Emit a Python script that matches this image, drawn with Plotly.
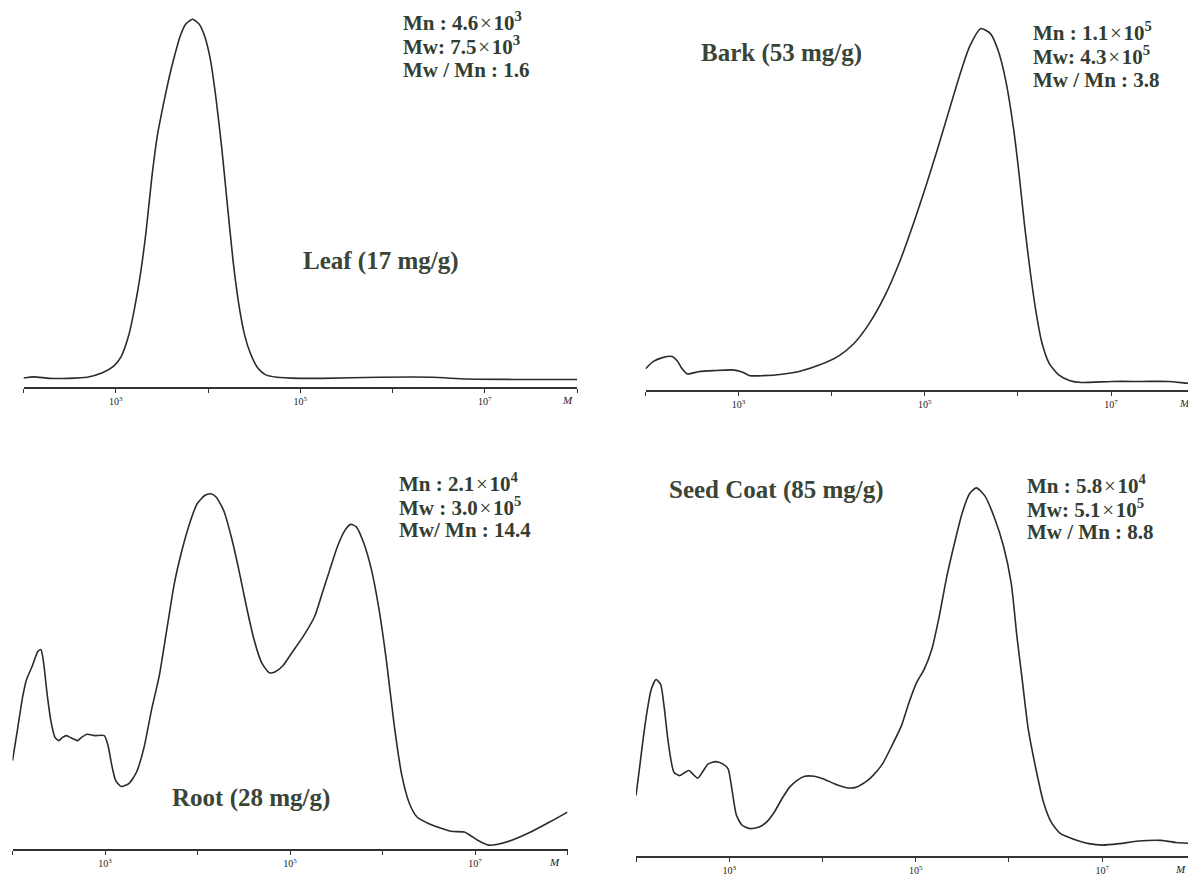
import plotly.graph_objects as go

# ---------------- data (log10 M, relative intensity % of main peak) ----------------
leaf_logM = [2.000, 2.115, 2.279, 2.485, 2.690, 2.855, 2.978, 3.060, 3.143, 3.204, 3.266, 3.328,
             3.389, 3.451, 3.513, 3.574, 3.636, 3.697, 3.759, 3.833, 3.903, 3.965, 4.026, 4.088,
             4.150, 4.211, 4.273, 4.335, 4.396, 4.458, 4.540, 4.622, 4.746, 4.992, 5.239, 5.855,
             6.431, 6.801, 7.294, 8.000]
leaf_int = [2.4, 2.7, 2.3, 2.3, 2.6, 3.8, 5.6, 8.3, 14.2, 21.4, 30.4, 42.1,
            56.5, 68.3, 76.4, 83.6, 89.9, 95.3, 98.7, 100.0, 98.7, 95.3, 89.0, 78.2,
            64.7, 49.3, 34.0, 22.3, 14.2, 9.2, 5.1, 3.3, 2.6, 2.3, 2.3, 2.6,
            2.6, 2.1, 2.0, 2.0]

bark_logM = [2.000, 2.081, 2.183, 2.285, 2.346, 2.387, 2.448, 2.570, 2.733, 2.936, 3.038, 3.120,
             3.262, 3.466, 3.669, 3.873, 4.077, 4.239, 4.402, 4.565, 4.728, 4.891, 5.013, 5.135,
             5.257, 5.380, 5.481, 5.603, 5.705, 5.787, 5.868, 5.950, 6.011, 6.072, 6.133, 6.194,
             6.255, 6.336, 6.438, 6.560, 6.682, 7.008, 7.334, 7.619, 7.823, 7.896]
bark_int = [5.8, 7.8, 8.9, 9.2, 7.8, 6.0, 4.4, 5.0, 5.3, 5.5, 4.9, 3.9,
            3.9, 4.3, 5.2, 6.9, 9.4, 12.8, 18.3, 25.7, 35.3, 47.0, 56.5, 66.5,
            77.0, 87.5, 95.0, 100.0, 98.6, 94.0, 85.8, 72.9, 60.1, 45.4, 32.6, 21.6,
            13.3, 7.3, 4.1, 2.5, 2.0, 2.3, 2.3, 2.3, 1.8, 1.7]

root_logM = [2.000, 2.049, 2.111, 2.152, 2.213, 2.275, 2.307, 2.336, 2.377, 2.418, 2.459, 2.500,
             2.541, 2.582, 2.623, 2.664, 2.705, 2.746, 2.807, 2.889, 2.992, 3.033, 3.074, 3.115,
             3.176, 3.258, 3.340, 3.422, 3.504, 3.586, 3.668, 3.750, 3.832, 3.914, 3.996, 4.078,
             4.139, 4.201, 4.283, 4.365, 4.447, 4.529, 4.611, 4.693, 4.775, 4.836, 4.918, 5.020,
             5.143, 5.266, 5.348, 5.430, 5.512, 5.594, 5.656, 5.717, 5.799, 5.881, 5.963, 6.045,
             6.127, 6.209, 6.291, 6.373, 6.496, 6.619, 6.742, 6.885, 6.947, 7.029, 7.152, 7.234,
             7.398, 7.602, 7.807, 8.000]
root_int = [25.0, 32.9, 43.1, 47.8, 51.5, 55.7, 56.2, 52.5, 43.1, 35.7, 31.5, 30.6,
            31.5, 32.0, 31.5, 31.0, 30.6, 31.5, 32.4, 32.0, 32.0, 29.2, 23.6, 19.4,
            17.7, 18.5, 21.7, 28.7, 39.4, 48.7, 61.8, 74.8, 84.1, 91.6, 97.2, 99.5,
            100.0, 99.1, 95.3, 87.9, 78.6, 68.3, 59.0, 52.5, 49.7, 49.9, 51.5, 55.3,
            59.9, 65.5, 72.0, 78.6, 85.1, 89.7, 91.4, 90.7, 86.0, 78.6, 67.4, 52.5,
            34.8, 20.8, 12.9, 9.1, 7.3, 6.1, 5.1, 4.9, 4.0, 2.6, 1.2, 1.4,
            2.6, 4.9, 7.7, 10.5]

seed_logM = [2.000, 2.041, 2.081, 2.122, 2.163, 2.215, 2.264, 2.305, 2.346, 2.407, 2.467, 2.528,
             2.569, 2.610, 2.663, 2.711, 2.772, 2.854, 2.935, 2.988, 3.028, 3.077, 3.138, 3.220,
             3.321, 3.402, 3.484, 3.565, 3.646, 3.728, 3.809, 3.911, 4.012, 4.134, 4.256, 4.358,
             4.459, 4.541, 4.642, 4.744, 4.846, 4.927, 5.008, 5.089, 5.171, 5.252, 5.333, 5.415,
             5.496, 5.577, 5.650, 5.740, 5.841, 5.943, 6.024, 6.085, 6.146, 6.207, 6.289, 6.370,
             6.451, 6.553, 6.695, 6.858, 7.000, 7.183, 7.386, 7.630, 7.793, 7.988]
seed_int = [16.4, 24.5, 32.6, 39.8, 45.2, 47.9, 46.6, 39.8, 30.8, 22.7, 21.8, 22.7,
            23.2, 22.2, 21.1, 22.7, 24.9, 25.6, 24.9, 23.6, 18.2, 11.0, 8.3, 7.4,
            7.8, 9.2, 11.9, 15.5, 18.6, 20.5, 21.6, 21.6, 20.9, 19.5, 18.5, 18.6,
            20.0, 21.8, 24.9, 29.9, 35.3, 41.6, 47.0, 50.6, 56.0, 65.1, 75.9, 84.9,
            93.0, 98.4, 100.0, 97.9, 92.1, 84.0, 74.1, 59.7, 47.0, 34.4, 23.6, 14.6,
            9.2, 6.0, 4.5, 3.3, 2.9, 3.3, 4.0, 4.2, 3.6, 3.3]

sample_names = ["Leaf (17 mg/g)", "Bark (53 mg/g)", "Root (28 mg/g)", "Seed Coat (85 mg/g)"]
X = "<span style='font-weight:normal'>\u200a×\u200a</span>"
stats_lines = [
    ["Mn : 4.6" + X + "10<sup>3</sup>", "Mw: 7.5" + X + "10<sup>3</sup>", "Mw / Mn : 1.6"],
    ["Mn : 1.1" + X + "10<sup>5</sup>", "Mw: 4.3" + X + "10<sup>5</sup>", "Mw / Mn : 3.8"],
    ["Mn : 2.1" + X + "10<sup>4</sup>", "Mw : 3.0" + X + "10<sup>5</sup>", "Mw/ Mn : 14.4"],
    ["Mn : 5.8" + X + "10<sup>4</sup>", "Mw: 5.1" + X + "10<sup>5</sup>", "Mw / Mn : 8.8"],
]
major_decades = [3, 5, 7]
major_text = ["10<sup>3</sup>", "10<sup>5</sup>", "10<sup>7</sup>"]
minor_decades = [2, 4, 6, 8]

# ---------------- layout geometry ----------------
W, H = 1188, 876
series = [(leaf_logM, leaf_int), (bark_logM, bark_int), (root_logM, root_int), (seed_logM, seed_int)]
panels = [
    dict(x0=23.5, x1=577.0, r=(2, 8.0), yax=389.0, ytop=0.0, peak=369.7,
         stats=(401, [22, 46, 70]), name=(381, 262), mx=567),
    dict(x0=645.5, x1=1188.0, r=(2, 7.827), yax=392.0, ytop=0.0, peak=363.3,
         stats=(1031, [32, 56, 80]), name=(782, 53), mx=1184),
    dict(x0=12.5, x1=567.5, r=(2, 8.0), yax=854.3, ytop=440.0, peak=357.7,
         stats=(397, [485, 509, 533]), name=(251, 803), mx=554),
    dict(x0=636.0, x1=1188.0, r=(2, 7.92), yax=860.7, ytop=440.0, peak=370.0,
         stats=(1025, [487, 511, 535]), name=(776, 493), mx=1180),
]

fig = go.Figure()
LINE = "#2b2b2b"
TXT = "#333d31"
annotations = []
for i, (p, (lm, inten)) in enumerate(zip(panels, series)):
    k = "" if i == 0 else str(i + 1)
    fig.add_trace(go.Scatter(
        x=[10 ** v for v in lm], y=inten, mode="lines",
        line=dict(color=LINE, width=1.6, shape="spline", smoothing=0.6),
        xaxis="x" + k, yaxis="y" + k, showlegend=False, hoverinfo="skip"))
    yrange_top = 100.0 * (p["yax"] - p["ytop"]) / p["peak"]
    fig.layout["xaxis" + k] = dict(
        type="log", range=list(p["r"]), domain=[p["x0"] / W, min(1.0, p["x1"] / W)],
        anchor="y" + k, showgrid=False, zeroline=False,
        showline=True, linecolor="#333333", linewidth=2,
        ticks="outside", ticklen=4, tickwidth=1, tickcolor="#333333",
        tickmode="array",
        tickvals=[10 ** d for d in major_decades], ticktext=major_text,
        minor=dict(tickmode="array", tickvals=[10 ** d for d in minor_decades],
                   ticks="outside", ticklen=4, tickwidth=1, tickcolor="#333333", showgrid=False),
        tickfont=dict(family="Liberation Serif", size=10, color="#222222"),
        fixedrange=True)
    fig.layout["yaxis" + k] = dict(
        range=[0, yrange_top], domain=[1 - p["yax"] / H, 1 - p["ytop"] / H],
        anchor="x" + k, visible=False, fixedrange=True)
    sx, sys_ = p["stats"]
    for line_txt, yy in zip(stats_lines[i], sys_):
        annotations.append(dict(
            text="<b>" + line_txt + "</b>", x=sx / W, y=1 - yy / H, xref="paper", yref="paper",
            xanchor="left", yanchor="middle", showarrow=False,
            font=dict(family="Liberation Serif", size=21, color=TXT)))
    nx, ny = p["name"]
    annotations.append(dict(
        text="<b>" + sample_names[i] + "</b>", x=nx / W, y=1 - ny / H, xref="paper", yref="paper",
        xanchor="center", yanchor="middle", showarrow=False,
        font=dict(family="Liberation Serif", size=25, color="#3a4538")))
    annotations.append(dict(
        text="<i>M</i>", x=p["mx"] / W, y=1 - (p["yax"] + 5) / H, xref="paper", yref="paper",
        xanchor="center", yanchor="top", showarrow=False,
        font=dict(family="Liberation Serif", size=11, color="#222222")))

fig.update_layout(
    width=W, height=H, margin=dict(l=0, r=0, t=0, b=0),
    paper_bgcolor="white", plot_bgcolor="white",
    annotations=annotations, showlegend=False)

fig.write_html("out.html", config={"displayModeBar": False},
               post_script="document.body.style.margin='0';document.body.style.overflow='hidden';")
